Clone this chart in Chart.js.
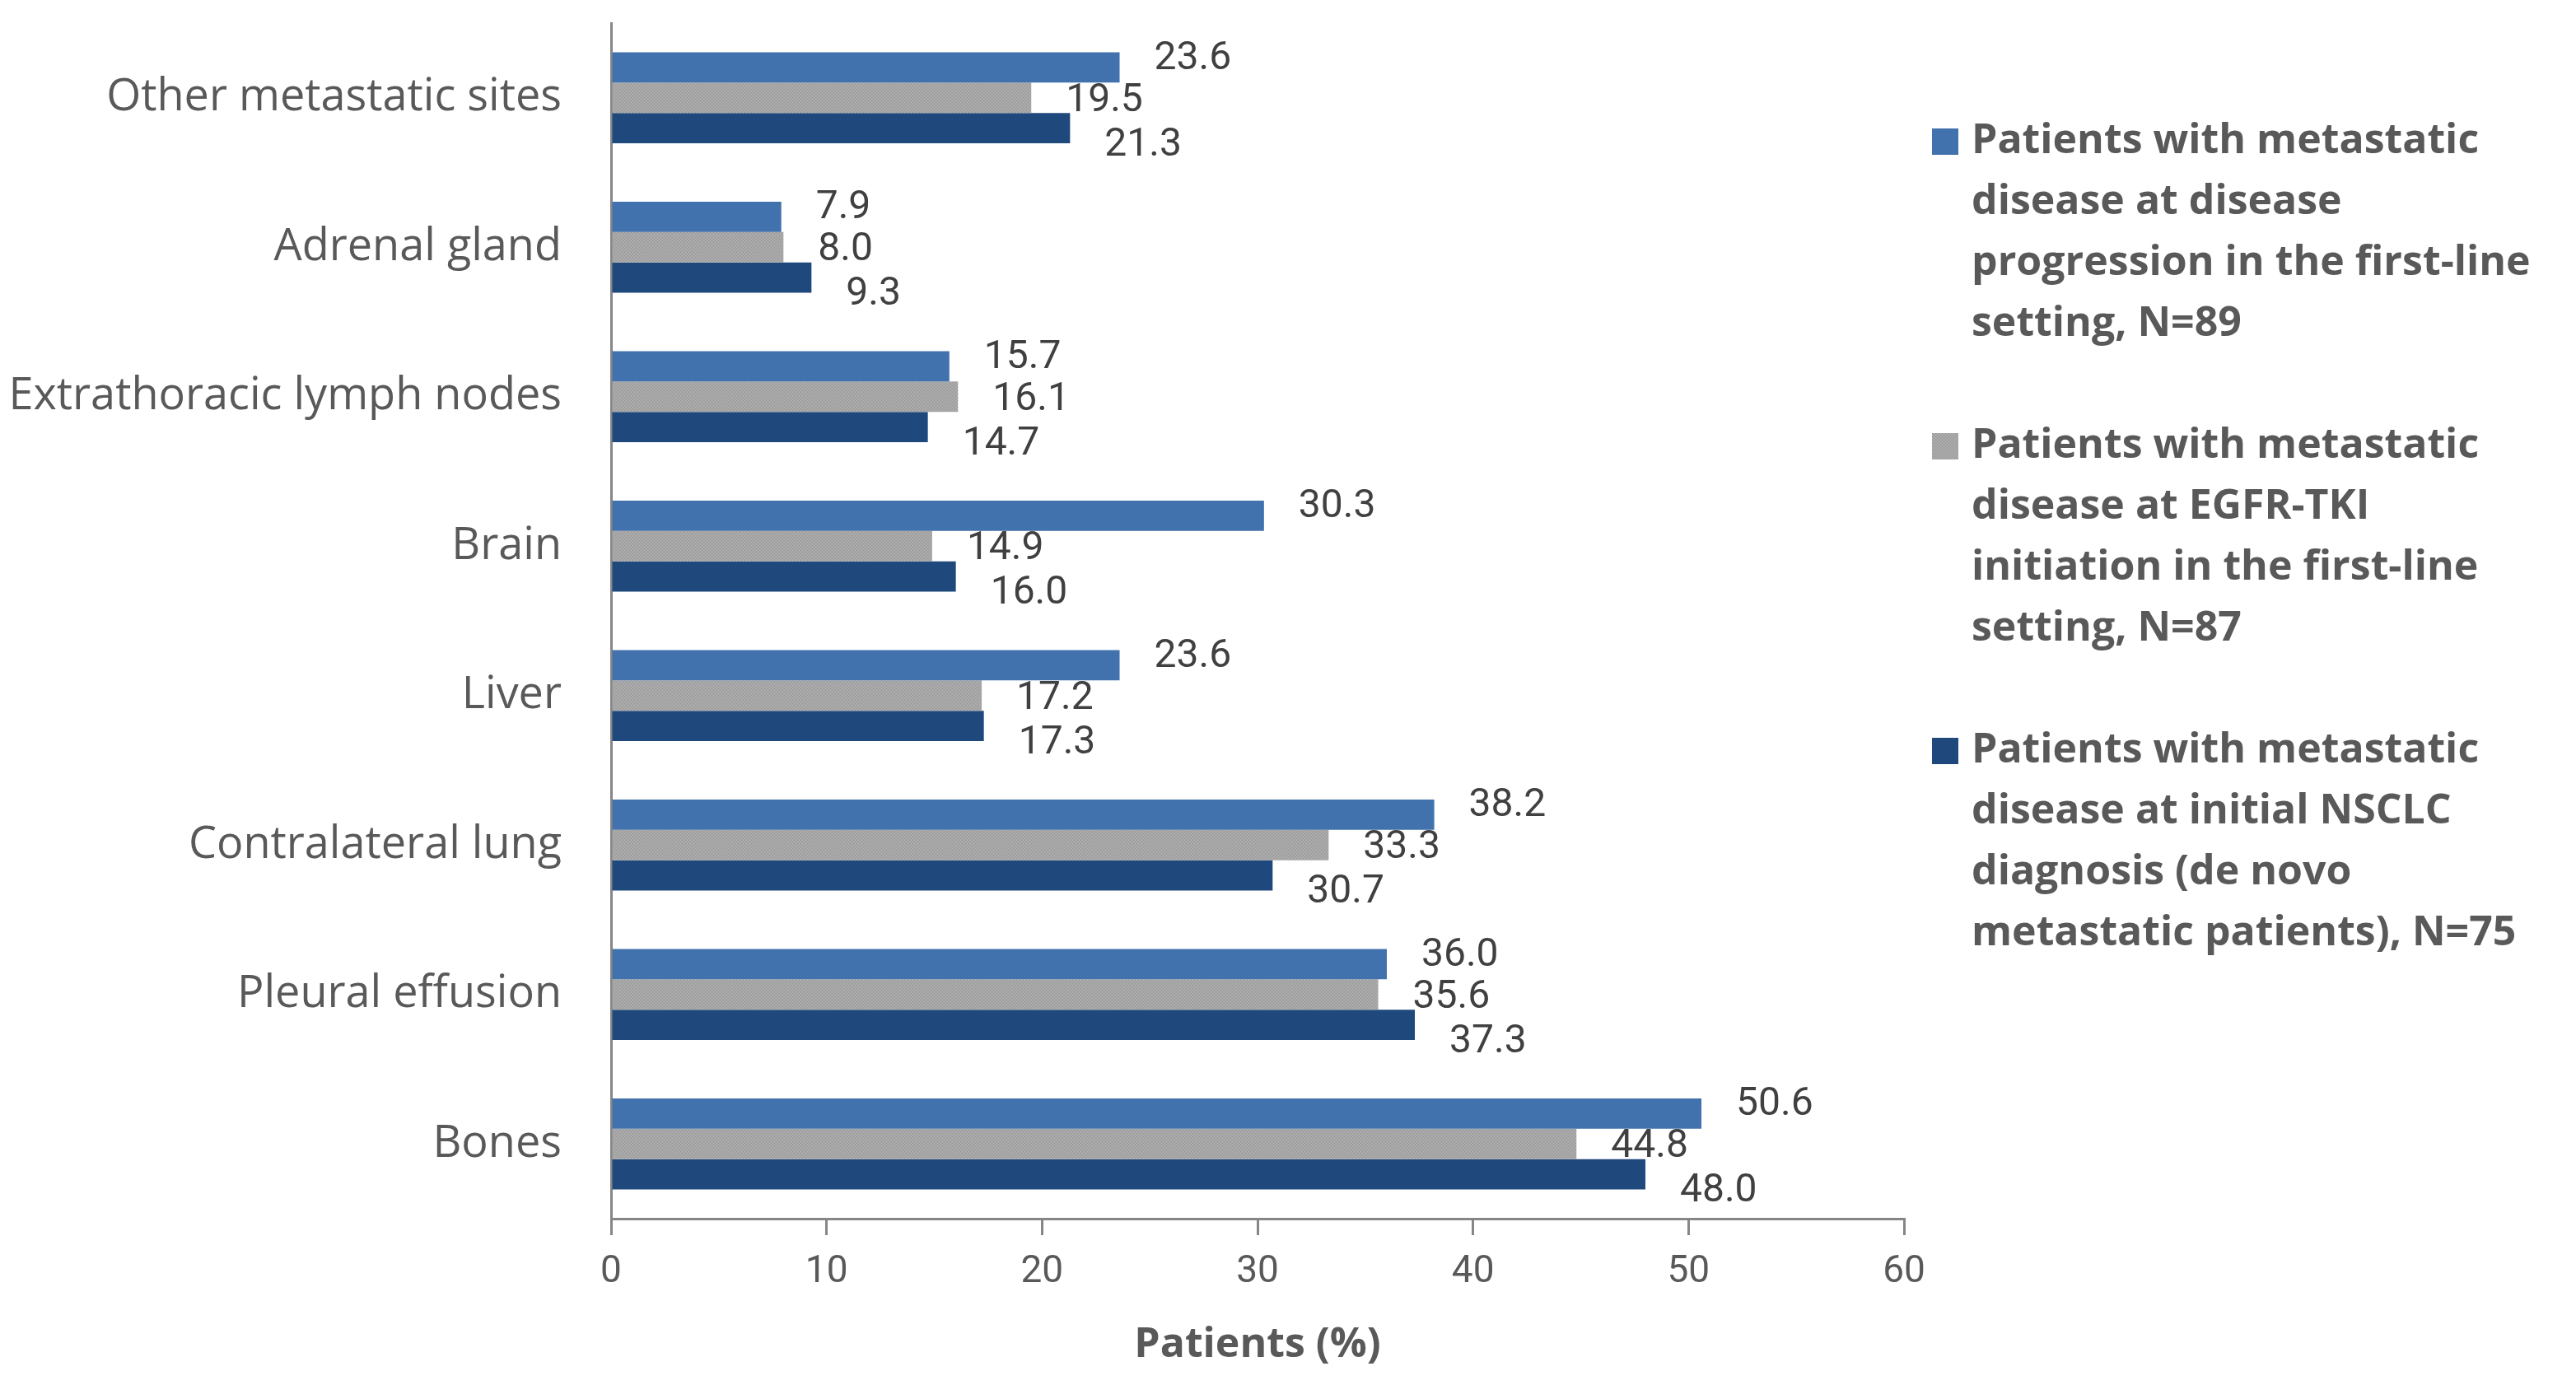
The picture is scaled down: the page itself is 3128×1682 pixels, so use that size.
<!DOCTYPE html>
<html>
<head>
<meta charset="utf-8">
<script src="https://cdn.jsdelivr.net/npm/chart.js@4"></script>
<style>
  html, body { margin: 0; padding: 0; background: #fff; }
  .chart { width: 3128px; height: 1682px; position: relative; }
</style>
</head>
<body>
<div class="chart"><canvas id="sites"></canvas></div>
<script>
// Data
const sites = ["Other metastatic sites", "Adrenal gland", "Extrathoracic lymph nodes", "Brain",
    "Liver", "Contralateral lung", "Pleural effusion", "Bones"];
const progression = [23.6, 7.9, 15.7, 30.3, 23.6, 38.2, 36.0, 50.6];
const tkiStart = [19.5, 8.0, 16.1, 14.9, 17.2, 33.3, 35.6, 44.8];
const deNovo = [21.3, 9.3, 14.7, 16.0, 17.3, 30.7, 37.3, 48.0];
const xTicks = [0, 10, 20, 30, 40, 50, 60];
const seriesNames = [
    ["Patients with metastatic", "disease at disease", "progression in the first-line", "setting, N=89"],
    ["Patients with metastatic", "disease at EGFR-TKI", "initiation in the first-line", "setting, N=87"],
    ["Patients with metastatic", "disease at initial NSCLC", "diagnosis (de novo", "metastatic patients), N=75"]
];

const narrow = "'Liberation Sans Narrow', 'Roboto', 'Noto Sans', sans-serif";
const sans = "'Open Sans', 'Noto Sans', sans-serif";
// labels of the three series sit a little spread apart, like in the source
const labelShift = [-10, 4, 21];

// gray bars have a fine dotted texture
const grayPattern = () => {
    let c = document.createElement("canvas");
    c.width = 4;
    c.height = 4;
    let g = c.getContext("2d");
    g.fillStyle = "#a6a6a6";
    g.fillRect(0, 0, 4, 4);
    g.fillStyle = "#979797";
    g.fillRect(0, 0, 1, 1);
    g.fillRect(2, 2, 1, 1);
    g.fillStyle = "#b3b3b3";
    g.fillRect(2, 0, 1, 1);
    g.fillRect(0, 2, 1, 1);
    return g.createPattern(c, "repeat");
}

// Plugins
const valueLabels = {
    id: "valueLabels",
    afterDatasetsDraw(chart) {
        let ctx = chart.ctx;
        ctx.save();
        ctx.font = "48px " + narrow;
        ctx.fillStyle = "#404040";
        ctx.textAlign = "left";
        ctx.textBaseline = "middle";
        chart.data.datasets.forEach((ds, i) => {
            chart.getDatasetMeta(i).data.forEach((bar, j) => {
                ctx.fillText(ds.data[j].toFixed(1), bar.x + 42, bar.y + labelShift[i]);
            });
        });
        ctx.restore();
    }
}

const sideLegend = {
    id: "sideLegend",
    afterDraw(chart) {
        let ctx = chart.ctx;
        let left = chart.chartArea.right + 34;
        let y = 172;
        ctx.save();
        ctx.font = "bold 50px " + sans;
        ctx.textBaseline = "middle";
        ctx.textAlign = "left";
        chart.data.datasets.forEach((ds, i) => {
            ctx.fillStyle = ds.backgroundColor;
            ctx.fillRect(left, y - 16, 32, 32);
            ctx.fillStyle = "#595959";
            seriesNames[i].forEach((line, k) => {
                ctx.fillText(line, left + 48, y + k * 74);
            });
            y += (seriesNames[i].length + 1) * 74;
        });
        ctx.restore();
    }
}

// Init
new Chart(document.getElementById("sites"), {
    type: "bar",
    data: {
        labels: sites,
        datasets: [
            {label: seriesNames[0].join(" "), data: progression, backgroundColor: "#4272ad"},
            {label: seriesNames[1].join(" "), data: tkiStart, backgroundColor: grayPattern()},
            {label: seriesNames[2].join(" "), data: deNovo, backgroundColor: "#1f497d"}
        ]
    },
    options: {
        indexAxis: "y",
        responsive: true,
        maintainAspectRatio: false,
        devicePixelRatio: 1,
        animation: false,
        datasets: {
            bar: {categoryPercentage: 0.61, barPercentage: 1.0}
        },
        layout: {padding: {left: 0, top: 28, right: 816, bottom: 0}},
        plugins: {
            legend: {display: false},
            tooltip: {enabled: false}
        },
        scales: {
            x: {
                min: 0,
                max: 60,
                afterBuildTicks: (s) => { s.ticks = xTicks.map(v => ({value: v})); },
                afterFit: (s) => { s.height = 202; },
                border: {color: "#868686", width: 3},
                grid: {display: true, drawOnChartArea: false, drawTicks: true, tickLength: 20, color: "#868686", lineWidth: 3},
                ticks: {color: "#595959", padding: 18, font: {family: narrow, size: 46}},
                title: {
                    display: true,
                    text: "Patients (%)",
                    color: "#595959",
                    padding: {top: 0, bottom: 18},
                    font: {family: sans, size: 50, weight: "bold"}
                }
            },
            y: {
                afterFit: (s) => {
                    s.width = 742;
                    s.paddingTop = 0;
                    s.paddingBottom = 0;
                },
                border: {color: "#868686", width: 3},
                grid: {display: false, drawTicks: false},
                ticks: {color: "#595959", padding: 60, font: {family: sans, size: 54}}
            }
        }
    },
    plugins: [valueLabels, sideLegend]
});
</script>
</body>
</html>
